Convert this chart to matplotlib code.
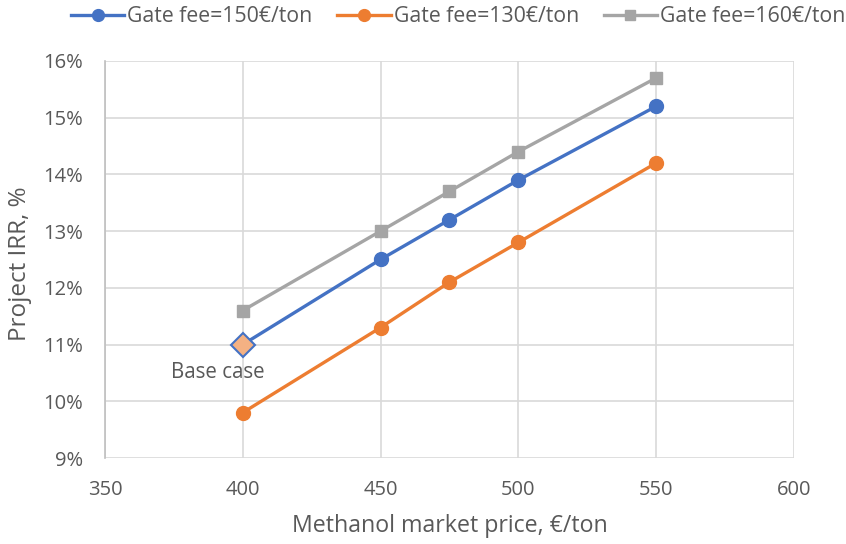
import matplotlib
matplotlib.use("Agg")
import matplotlib.pyplot as plt
from matplotlib.ticker import FuncFormatter

plt.rcParams['font.family'] = ['Open Sans', 'DejaVu Sans']

price = [400, 450, 475, 500, 550]
irr_150 = [11.0, 12.5, 13.2, 13.9, 15.2]
irr_130 = [9.8, 11.3, 12.1, 12.8, 14.2]
irr_160 = [11.6, 13.0, 13.7, 14.4, 15.7]
base_price = 400
base_irr = 11.0

blue = '#4472C4'
orange = '#ED7D31'
gray = '#A5A5A5'
text_c = '#595959'
grid_c = '#D9D9D9'

fig = plt.figure(figsize=(8.46, 5.44), dpi=100)
ax = fig.add_axes([0.124, 0.158, 0.8145, 0.730])

l1, = ax.plot(price, irr_150, color=blue, lw=2.4, marker='o', ms=10,
              label='Gate fee=150€/ton', zorder=3)
l2, = ax.plot(price, irr_130, color=orange, lw=2.4, marker='o', ms=10,
              label='Gate fee=130€/ton', zorder=3)
l3, = ax.plot(price, irr_160, color=gray, lw=2.4, marker='s', ms=9,
              label='Gate fee=160€/ton', zorder=3)
ax.plot([base_price], [base_irr], marker='D', ms=12, mfc='#F4B183',
        mec=blue, mew=1.5, ls='none', zorder=4)
ax.annotate('Base case', (base_price, base_irr), xytext=(-18, -20),
            textcoords='offset points', ha='center', va='center',
            fontsize=14.8, color=text_c)

ax.set_xlim(350, 600)
ax.set_ylim(9, 16)
ax.set_xticks([350, 400, 450, 500, 550, 600])
ax.set_yticks(range(9, 17))
ax.yaxis.set_major_formatter(FuncFormatter(lambda v, p: f'{v:.0f}%'))
ax.grid(True, color=grid_c, lw=1.2)
ax.set_axisbelow(True)
for side, sp in ax.spines.items():
    if side == 'left':
        sp.set_color('#BFBFBF')
        sp.set_linewidth(1.2)
    else:
        sp.set_visible(False)
ax.tick_params(length=0, labelsize=14.5, colors=text_c)
ax.tick_params(axis='y', pad=16)
ax.tick_params(axis='x', pad=16)
ax.set_xlabel('Methanol market price, €/ton', fontsize=16.7, color=text_c, labelpad=10)
ax.set_ylabel('Project IRR, %', fontsize=17.5, color=text_c)
ax.yaxis.set_label_coords(-0.106, 0.49)

fig.legend(handles=[l1, l2, l3], loc='center left', bbox_to_anchor=(0.084, 0.969),
           ncol=3, frameon=False, fontsize=15.3, labelcolor=text_c,
           handlelength=2.5, handletextpad=0.15, columnspacing=1.17,
           markerscale=0.85, borderpad=0, borderaxespad=0)

fig.savefig('out.png', dpi=100)
